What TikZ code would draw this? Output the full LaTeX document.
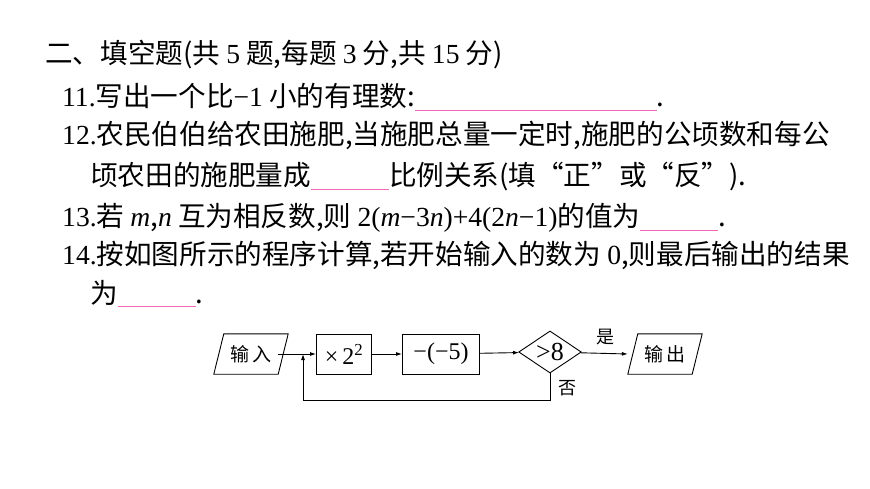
\documentclass[tikz,border=0pt]{standalone}
\usepackage{fontspec}
\setmainfont{Liberation Serif}
\newfontfamily\cjk{Noto Sans CJK SC}
\usetikzlibrary{shapes.geometric,arrows.meta}
\newcommand\myblank[1]{{\color{magenta!60}\rule[-4pt]{#1}{0.8pt}}}
\begin{document}
\begin{tikzpicture}[x=1pt,y=-1pt,
  txt/.style={anchor=base west,inner sep=0pt,font=\fontsize{27.6}{29}\selectfont\cjk},
  fbox/.style={draw,line width=0.9pt,minimum height=40pt,inner sep=0pt,font=\fontsize{24}{26}\selectfont\rmfamily},
  para/.style={minimum width=64pt,minimum height=40pt,inner sep=0pt,font=\fontsize{19}{20}\selectfont\cjk},
  arr/.style={-{Latex[length=6pt,width=4pt]},line width=0.9pt}]
\useasboundingbox (0,0) rectangle (870,489);
\node[txt] (l1) at (45,64) {二、填空题(共 {\rmfamily 5} 题,每题 {\rmfamily 3} 分,共 {\rmfamily 15} 分)};
\node[txt] (l2) at (62,107) {{\rmfamily 11.}写出一个比{\rmfamily −1} 小的有理数:\myblank{242pt}.};
\node[txt] (l3) at (62,145) {{\rmfamily 12.}农民伯伯给农田施肥,当施肥总量一定时,施肥的公顷数和每公};
\node[txt] (l4) at (90,186) {顷农田的施肥量成\myblank{78pt}比例关系(填“正”或“反”).};
\node[txt] (l5) at (62,227) {{\rmfamily 13.}若 {\rmfamily\itshape m},{\rmfamily\itshape n} 互为相反数,则 {\rmfamily 2(\textit{m}−3\textit{n})+4(2\textit{n}−1)}的值为\myblank{78pt}.};
\node[txt] (l6) at (62,264) {{\rmfamily 14.}按如图所示的程序计算,若开始输入的数为 {\rmfamily 0},则最后输出的结果};
\node[txt] (l7) at (90,303) {为\myblank{78pt}.};
% flowchart
\node[para] (in) at (251,354) {输\,入};
\draw[line width=0.9pt] ([xshift=5pt]in.north west) -- ([xshift=5pt]in.north east) -- ([xshift=-5pt]in.south east) -- ([xshift=-5pt]in.south west) -- cycle;
\node[fbox,minimum width=55pt] (m) at (344,354) {×\,2$^{\rm 2}$};
\node[fbox,minimum width=77pt] (s) at (441,354) {−(−5)};
\node[fbox,diamond,aspect=1.75,inner sep=0pt,text width=32pt,minimum height=42pt,align=center,font=\fontsize{26}{26}\selectfont\rmfamily] (d) at (550,352) {>8};
\node[para] (out) at (665,354) {输\,出};
\draw[line width=0.9pt] ([xshift=5pt]out.north west) -- ([xshift=5pt]out.north east) -- ([xshift=-5pt]out.south east) -- ([xshift=-5pt]out.south west) -- cycle;
\coordinate (j) at (303,354);
\coordinate (c1) at (550,400);
\coordinate (c2) at (303,400);
\draw[line width=0.9pt] ([xshift=-5pt]in.east) -- (j);
\draw[arr] (j) -- (m);
\draw[arr] (m) -- (s);
\draw[arr] (s) -- (d);
\draw[arr] (d) -- ([xshift=-5pt]out.west);
\node[font=\fontsize{18}{18}\selectfont\cjk] (yes) at (605,337) {是};
\draw[arr] (d.south) -- (c1) -- (c2) -- (j);
\node[font=\fontsize{18}{18}\selectfont\cjk] (no) at (567,388) {否};
\end{tikzpicture}
\end{document}
